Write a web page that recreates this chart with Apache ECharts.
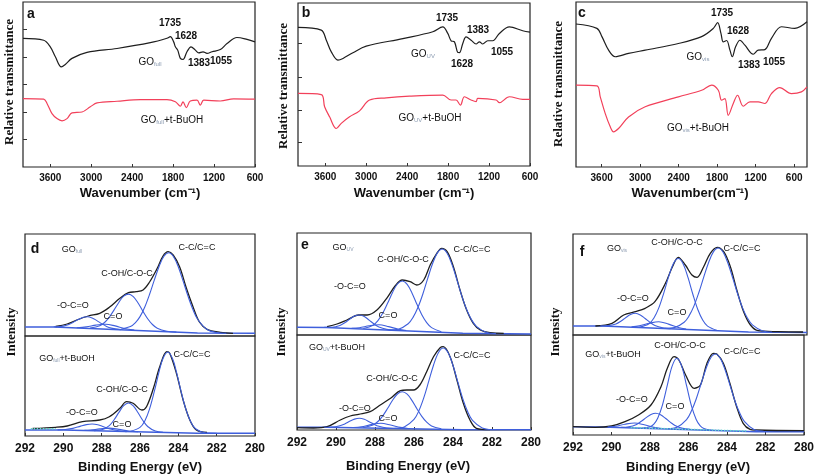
<!DOCTYPE html>
<html><head><meta charset="utf-8">
<script src="https://cdn.jsdelivr.net/npm/echarts@6/dist/echarts.min.js"></script>
<style>html,body{margin:0;padding:0;background:#fff}#c{width:817px;height:476px}</style>
</head><body><div id="c"></div>
<script>
// ---------- FTIR (wavenumber, relative transmittance a.u.) ----------
const ftirTicks = [600, 1200, 1800, 2400, 3000, 3600];
const ftirA_GO = [[4000,4.68],[3697,4.61],[3600,4.37],[3526,4.01],[3438,3.64],[3380,3.73],[3282,3.95],[3062,4.17],[2622,4.31],[2134,4.52],[1890,4.68],[1841,4.74],[1792,4.55],[1767,4.37],[1733,4.25],[1694,3.95],[1655,3.91],[1597,4.19],[1538,4.37],[1474,4.25],[1425,4.15],[1362,4.19],[1303,4.13],[1230,4.19],[1108,4.27],[1010,4.49],[864,4.71],[717,4.64],[600,4.55]];
const ftirA_tBu = [[4000,2.49],[3697,2.47],[3648,2.31],[3575,1.94],[3502,1.76],[3428,1.68],[3355,1.76],[3282,1.97],[3135,2.00],[3013,2.19],[2915,2.33],[2622,2.39],[2280,2.45],[1890,2.45],[1767,2.37],[1694,2.21],[1655,2.37],[1606,2.16],[1548,2.40],[1450,2.43],[1401,2.25],[1352,2.43],[1108,2.40],[913,2.48],[600,2.47]];
const ftirB_GO = [[4000,5.10],[3659,5.00],[3585,4.63],[3512,4.20],[3415,3.90],[3341,3.96],[3195,4.17],[3000,4.41],[2463,4.69],[2024,4.94],[1878,5.12],[1805,4.88],[1756,4.61],[1707,4.57],[1659,4.18],[1634,4.17],[1585,4.51],[1537,4.75],[1463,4.63],[1390,4.49],[1341,4.57],[1293,4.49],[1220,4.61],[1146,4.61],[1049,4.88],[902,5.12],[707,4.98],[600,4.93]];
const ftirB_tBu = [[4000,2.67],[3659,2.63],[3610,2.18],[3537,1.81],[3439,1.38],[3366,1.57],[3244,1.81],[3098,2.03],[2951,2.43],[2707,2.51],[2366,2.57],[1878,2.61],[1756,2.43],[1683,2.43],[1620,2.24],[1561,2.55],[1463,2.43],[1390,2.37],[1366,2.49],[1098,2.43],[1049,2.33],[902,2.55],[707,2.45],[600,2.45]];
const ftirC_GO = [[4000,5.20],[3674,5.04],[3596,4.74],[3492,4.25],[3389,4.01],[3181,4.13],[2922,4.25],[2404,4.49],[2042,4.74],[1860,5.04],[1793,5.25],[1741,4.86],[1705,4.55],[1653,4.60],[1601,4.25],[1565,4.01],[1513,4.37],[1446,4.61],[1368,4.43],[1238,4.10],[1161,4.25],[1057,4.27],[954,4.68],[798,5.10],[591,5.04],[400,5.28]];
const ftirC_tBu = [[4000,2.98],[3674,2.95],[3622,2.55],[3544,1.94],[3466,1.46],[3415,1.28],[3337,1.40],[3181,1.82],[2922,2.19],[2404,2.55],[2042,2.79],[1886,2.98],[1782,2.79],[1731,2.43],[1679,2.49],[1627,1.88],[1549,2.31],[1482,2.61],[1394,2.21],[1290,2.37],[1161,2.37],[1057,2.31],[954,2.67],[824,2.89],[643,2.67],[487,2.73],[400,2.91]];

// ---------- XPS C1s (binding energy, intensity a.u.) ----------
const dTopBase = [[292,9],[290.5,9],[283,3],[280,2.7]];
const dTopEnv = [[290.4,9.5],[289.8,12],[289.3,16],[288.7,20],[288.1,22.7],[287.6,28.7],[287.05,37.7],[286.6,43.3],[286.2,44.3],[285.84,46],[285.5,54],[285.1,67.7],[284.8,80],[284.53,84.3],[284.27,81],[283.93,69],[283.6,49],[283.23,29],[282.9,14],[282.5,6.7],[281.8,3.7],[281.15,2.7]];
const dTopCC = [[287,6.8],[286.5,9.4],[286.25,13.1],[286,19.4],[285.75,29],[285.5,41.7],[285.25,56.1],[285,69.8],[284.75,79.7],[284.5,83.2],[284.25,79.3],[284,69],[283.75,54.9],[283.5,40.1],[283.25,27],[283,17],[282.5,6.5],[282,3.4],[281.5,2.7]];
const dTopCOH = [[288.6,8],[288.1,10.2],[287.85,13.5],[287.6,18.9],[287.35,26.1],[287.1,33.8],[286.85,39.8],[286.6,41.9],[286.35,39.4],[286.1,33],[285.85,24.9],[285.6,17.3],[285.35,11.5],[285.1,7.8],[284.6,4.8],[284.1,3.9]];
const dTopOCO = [[290.5,9.2],[290,9.9],[289.75,11.2],[289.5,13.5],[289.25,16.2],[289,18.5],[288.75,19.3],[288.5,18.1],[288.25,15.4],[288,12.3],[287.75,9.6],[287.5,7.9],[287,6.4]];
const dTopCO = [[289.3,8.3],[288.8,9.1],[288.3,10.9],[287.8,11.8],[287.3,10.1],[286.8,7.5],[286.3,5.9]];

const dBotBase = [[292,6],[290,6],[283,2.7],[280,2.7]];
const dBotEnv = [[291.6,7.5],[290.4,8.7],[289.8,10],[289,14.3],[288.1,16],[287.6,19.3],[287.05,27.7],[286.7,34.3],[286.36,32.7],[285.9,26],[285.66,29.3],[285.3,47.7],[284.97,69.3],[284.6,84.3],[284.45,82.7],[284.1,62.7],[283.75,36],[283.4,16],[283.06,6],[282.5,3.7]];
const dBotCC = [[286.5,4.7],[286,8.6],[285.75,15],[285.5,27.1],[285.25,44.8],[285,64.6],[284.8,77.5],[284.55,84],[284.3,77.3],[284.1,64.2],[283.85,44.2],[283.6,26.3],[283.35,14],[283.1,7.3],[282.6,3.1],[282,2.7]];
const dBotCOH = [[288.4,5.4],[288,6.2],[287.6,10.4],[287.35,16.2],[287.1,23.6],[286.85,30.3],[286.6,33],[286.35,30.1],[286.1,23.2],[285.85,15.5],[285.6,9.5],[285.2,4.9],[284.8,3.7]];
const dBotOCO = [[290.3,6.1],[289.9,6.5],[289.5,7.6],[289.1,9.9],[288.8,11.4],[288.5,12],[288.2,11.2],[287.9,9.3],[287.5,6.7],[287.1,5.2],[286.7,4.4]];
const dBotCO = [[288.9,5.7],[288.6,6],[288.1,7.1],[287.6,7.9],[287.1,6.6],[286.6,5],[286.1,4.2]];
const dBotResid = [[291.7,7.3],[290.4,7.3]];

const eTopBase = [[292,7.7],[290.5,7.5],[283.5,1.7],[280,1]];
const eTopEnv = [[290.46,8.3],[289.95,11],[289.44,15],[288.84,20],[288.4,20],[287.9,25],[287.4,36.7],[286.97,49],[286.6,55],[286.2,53.3],[285.86,50],[285.5,55],[285.17,70],[284.83,81.7],[284.58,86.7],[284.3,83.3],[283.98,68.3],[283.64,45],[283.3,25],[282.96,11.7],[282.6,5],[282.1,2.3],[281.4,1.7]];
const eTopCC = [[287.3,5],[286.8,5.8],[286.3,11.2],[286.05,17.6],[285.8,27.5],[285.55,40.8],[285.3,56.4],[285.05,71.2],[284.8,82.1],[284.55,86],[284.3,81.7],[284.05,70.4],[283.8,55.2],[283.55,39.1],[283.3,25.5],[283.05,15.3],[282.8,8.7],[282.3,2.7],[281.8,1.4]];
const eTopCOH = [[288.6,6.5],[288.1,9.8],[287.85,14.4],[287.6,21.9],[287.35,31.9],[287.1,42.6],[286.85,51],[286.6,54],[286.35,50.6],[286.1,41.8],[285.85,30.7],[285.6,20.3],[285.35,12.4],[285.1,7.4],[284.6,3.3]];
const eTopOCO = [[290.6,7.6],[290.2,7.8],[289.8,9.6],[289.55,12.2],[289.3,15.7],[289.05,18.9],[288.8,20],[288.55,18.5],[288.3,14.9],[288.05,11],[287.8,8],[287.4,5.6],[287,4.7]];
const eTopCO = [[289.2,6.7],[288.8,7.3],[288.3,9.2],[287.8,10.3],[287.3,8.4],[286.8,5.7],[286.4,4.5]];

const eBotBase = [[292,2.7],[290.5,2.7],[283.5,0.3],[280,0.3]];
const eBotEnv = [[292,2.3],[291.15,2],[290.46,3.3],[289.78,10],[289.27,14],[288.84,15.7],[288.25,18.3],[287.73,25],[287.2,31.7],[286.7,39.3],[286.37,40],[286.03,40],[285.7,45],[285.35,58.3],[285,73.3],[284.66,82.3],[284.5,83.3],[284.15,73.3],[283.8,50],[283.47,26.7],[283.13,10],[282.8,1.7],[282.1,0.3]];
const eBotCC = [[287,1.7],[286.5,3.1],[286,10.6],[285.75,19.2],[285.5,32.1],[285.25,48.3],[285,64.8],[284.75,77.3],[284.5,82],[284.25,77.2],[284,64.5],[283.75,47.8],[283.5,31.4],[283.25,18.4],[283,9.7],[282.5,2.1],[282,0.5]];
const eBotCOH = [[288.6,2.5],[288.1,5.1],[287.85,8.5],[287.6,14.2],[287.35,21.7],[287.1,29.7],[286.85,36],[286.6,38.3],[286.35,35.8],[286.1,29.4],[285.85,21.3],[285.6,13.6],[285.35,7.8],[285.1,4.1],[284.6,1.2]];
const eBotOCO = [[290.6,2.7],[290.2,2.9],[289.8,4.3],[289.55,6.1],[289.3,8.7],[289.05,10.9],[288.8,11.7],[288.55,10.7],[288.3,8.3],[288.05,5.7],[287.8,3.7],[287.4,2],[287,1.5]];
const eBotCO = [[289.1,2.5],[288.7,3.2],[288.2,5.4],[287.7,6.7],[287.2,5],[286.7,2.6],[286.3,1.5]];

const fTopBase = [[292,9],[290.5,9],[283,3],[280,2.5]];
const fTopEnv = [[290.85,9],[290,11.7],[289.4,20],[288.8,23.3],[288.3,26.7],[287.8,33.3],[287.26,51.7],[286.9,68.3],[286.6,77.7],[286.24,70],[285.9,60],[285.64,57.7],[285.3,68.3],[284.96,81.7],[284.6,87.7],[284.27,83.3],[283.93,68.3],[283.6,45],[283.25,23.3],[282.9,10],[282.5,4.3],[281.5,3.3],[280.2,3]];
const fTopCC = [[287.3,6.6],[286.8,7.4],[286.3,12.7],[286.05,19.1],[285.8,28.9],[285.55,42.2],[285.3,57.6],[285.05,72.3],[284.8,83.1],[284.55,87],[284.3,82.7],[284.05,71.5],[283.8,56.4],[283.55,40.6],[283.3,26.9],[283.05,16.7],[282.8,10.1],[282.3,4.3],[281.8,3]];
const fTopCOH = [[288.6,7.8],[288.1,11.3],[287.85,17],[287.6,27.1],[287.35,41.7],[287.1,58.1],[286.85,71.5],[286.6,76.5],[286.35,71.1],[286.1,57.3],[285.85,40.5],[285.6,25.5],[285.35,15],[285.1,8.9],[284.6,4.6]];
const fTopOCO = [[290.6,9.1],[290.2,9.4],[289.8,11.1],[289.55,13.8],[289.3,17.3],[289.05,20.5],[288.8,21.7],[288.55,20.1],[288.3,16.5],[288.05,12.6],[287.8,9.5],[287.4,7.1],[287,6.2]];
const fTopCO = [[289,8.2],[288.6,9.1],[288.1,11.7],[287.6,13.3],[287.1,10.9],[286.6,7.5],[286.2,6]];

const fBotBase = [[292,8.3],[290.5,8],[282.5,3.3],[280,3.3]];
const fBotEnv = [[292,8.3],[290.85,7.7],[290,9],[289.3,13.3],[288.6,20],[287.95,30],[287.43,48.3],[287.1,66.7],[286.75,78.3],[286.5,75],[286.15,60],[285.7,46.7],[285.38,50],[285.04,71.7],[284.7,81.7],[284.53,81],[284.19,71.7],[283.85,51.7],[283.5,28.3],[283.16,11.7],[282.8,5.7],[282.5,5],[280,4.3]];
const fBotCC = [[287.1,6.4],[286.6,7.8],[286.1,15.4],[285.85,23.9],[285.6,36],[285.35,51],[285.1,65.8],[284.85,77],[284.6,81],[284.35,76.7],[284.1,65.2],[283.85,50.1],[283.6,34.8],[283.35,22.4],[283.1,13.6],[282.6,5.5],[282.1,3.6]];
const fBotCOH = [[288.4,6.9],[288,8.2],[287.8,10.9],[287.6,16.7],[287.35,30.2],[287.1,49.9],[286.85,68.9],[286.6,76.7],[286.35,68.6],[286.1,49.3],[285.85,29.3],[285.6,15.5],[285.4,9.4],[285.2,6.5],[284.8,4.8]];
const fBotCO = [[289.5,7.6],[289.1,8.2],[288.7,10.6],[288.45,13.7],[288.2,17.4],[287.95,20.5],[287.7,21.7],[287.45,20.2],[287.2,16.8],[286.95,12.9],[286.7,9.5],[286.3,6.6],[285.9,5.6]];
const fBotOCO = [[290.2,8.1],[289.8,8.8],[289.3,10.8],[288.8,12],[288.3,10.2],[287.8,7.6],[287.4,6.5]];
const fBotResid = [[289,7.4],[283,3.9]];

// ---------- layout ----------
const SANS = 'Liberation Sans, Arial, sans-serif';
const SERIF = 'Liberation Serif, Times New Roman, serif';
const BLACK = '#1e1e1e', RED = '#f2405a', BLUE = '#3f5fdc', CYAN = '#5fd8c8';
const plain = v => String(v);

const grids = [
  {left:23, top:2, width:232, height:165},
  {left:298, top:3, width:232, height:163},
  {left:576, top:2, width:231, height:165},
  {left:25, top:234, width:230, height:102},
  {left:25, top:336, width:230, height:100},
  {left:297, top:233, width:234, height:102},
  {left:297, top:335, width:234, height:95},
  {left:573, top:234, width:234, height:101},
  {left:573, top:335, width:234, height:100}
].map(g => Object.assign({show:true, borderColor:'#222', borderWidth:1.2, backgroundColor:'transparent'}, g));

const xAxes = [], yAxes = [];
[600, 600, 400].forEach((mn, i) => {
  xAxes.push({gridIndex:i, type:'value', min:mn, max:4000, inverse:true,
    axisLine:{show:false}, splitLine:{show:false},
    axisTick:{show:true, inside:true, length:3, customValues:ftirTicks, lineStyle:{color:'#333'}},
    axisLabel:{customValues:ftirTicks, formatter:plain, fontSize:10, fontWeight:'bold', color:'#111', margin:6, fontFamily:SANS}});
});
const yTickA = [1,2,3,4,5], yTickB = [0.86,2.06,3.28,4.51];
[yTickA, yTickB, null].forEach((tk, i) => {
  yAxes.push({gridIndex:i, type:'value', min:0, max:6, axisLine:{show:false}, splitLine:{show:false},
    axisLabel:{show:false},
    axisTick: tk ? {show:true, inside:true, length:4, customValues:tk, lineStyle:{color:'#333'}} : {show:false}});
});
const xpsMax = [102, 100, 102, 95, 101, 100];
xpsMax.forEach((mx, k) => {
  const gi = 3 + k, bottom = (k % 2 === 1);
  xAxes.push({gridIndex:gi, type:'value', min:280, max:292, interval:2, inverse:true,
    axisLine:{show:false}, splitLine:{show:false},
    axisTick:{show:bottom, inside:true, length:3, lineStyle:{color:'#333'}},
    axisLabel:{show:bottom, formatter:plain, fontSize:12, fontWeight:'bold', color:'#111', margin:7, fontFamily:SANS}});
  yAxes.push({gridIndex:gi, type:'value', min:0, max:mx, show:false});
});

const series = [];
function line(gi, data, color, w, z, dash) {
  series.push({type:'line', xAxisIndex:gi, yAxisIndex:gi, data, symbol:'none', smooth:0.35,
    lineStyle:{color, width:w || 1.2, type: dash || 'solid'}, silent:true, z: z || 2});
}
line(0, ftirA_GO, BLACK); line(0, ftirA_tBu, RED);
line(1, ftirB_GO, BLACK); line(1, ftirB_tBu, RED);
line(2, ftirC_GO, BLACK); line(2, ftirC_tBu, RED);
const xps = [
  [dTopBase, dTopEnv, dTopCC, dTopCOH, dTopOCO, dTopCO],
  [dBotBase, dBotEnv, dBotCC, dBotCOH, dBotOCO, dBotCO],
  [eTopBase, eTopEnv, eTopCC, eTopCOH, eTopOCO, eTopCO],
  [eBotBase, eBotEnv, eBotCC, eBotCOH, eBotOCO, eBotCO],
  [fTopBase, fTopEnv, fTopCC, fTopCOH, fTopOCO, fTopCO],
  [fBotBase, fBotEnv, fBotCC, fBotCOH, fBotOCO, fBotCO]
];
xps.forEach((set, k) => {
  const gi = 3 + k;
  series.push({type:'line', xAxisIndex:gi, yAxisIndex:gi, data:set[0], symbol:'none', smooth:false,
    lineStyle:{color:BLUE, width:1.4}, silent:true, z:2});
  line(gi, set[1], BLACK, 1.3, 3);
  for (let j = 2; j < 6; j++) line(gi, set[j], BLUE, 1.1, 4);
});
line(4, dBotResid, CYAN, 1.5, 5, 'dotted');
line(8, fBotResid, CYAN, 1.5, 5, 'dotted');

// ---------- text ----------
const G = [];
function t(x, y, s, o) {
  o = o || {};
  G.push({type:'text', x, y, rotation:o.rot || 0, z:10, silent:true,
    style:{text:s, fill:o.color || '#111', fontSize:o.size || 9, fontWeight:o.weight || 'normal',
      fontFamily:o.family || SANS, align:o.align || 'center', verticalAlign:'middle', rich:o.rich}});
}
const goRich = (sz) => ({m:{fontSize:sz, fontFamily:SANS, fill:'#111', verticalAlign:'bottom'},
                         s:{fontSize:Math.round(sz*0.6), fontFamily:SANS, fill:'#8a9ab0', verticalAlign:'bottom'}});
function go(x, y, sub, suffix, sz) {
  t(x, y, '{m|GO}{s|' + sub + '}' + (suffix ? '{m|' + suffix + '}' : ''), {rich:goRich(sz || 10)});
}
const bold = {weight:'bold', size:10};
// panel a
t(31, 14, 'a', {weight:'bold', size:14}); t(170, 23, '1735', bold); t(186, 36, '1628', bold);
go(150, 62, 'full'); t(199, 63, '1383', bold); t(221, 61, '1055', bold); go(172, 120, 'full', '+t-BuOH');
// panel b
t(306, 13, 'b', {weight:'bold', size:14}); t(447, 18, '1735', bold); t(478, 30, '1383', bold);
go(423, 54, 'UV'); t(462, 64, '1628', bold); t(502, 52, '1055', bold); go(430, 118, 'UV', '+t-BuOH');
// panel c
t(582, 13, 'c', {weight:'bold', size:14}); t(722, 13, '1735', bold); t(738, 31, '1628', bold);
go(698, 57, 'vis'); t(749, 65, '1383', bold); t(774, 62, '1055', bold); go(698, 128, 'vis', '+t-BuOH');
// FTIR axis titles
[[10, 82], [284, 86], [559, 84]].forEach(p => t(p[0], p[1], 'Relative transmittance', {rot:Math.PI/2, size:13, weight:'bold', family:SERIF}));
t(140, 193, 'Wavenumber (cm\u207B\u00B9)', {size:13, weight:'bold'});
t(414, 193, 'Wavenumber (cm\u207B\u00B9)', {size:13, weight:'bold'});
t(690, 193, 'Wavenumber(cm\u207B\u00B9)', {size:13, weight:'bold'});
// panel d
const lab = {size:9};
t(35, 249, 'd', {weight:'bold', size:14}); go(72, 250, 'full', '', 9);
t(197, 248, 'C-C/C=C', lab); t(127, 274, 'C-OH/C-O-C', lab); t(73, 306, '-O-C=O', lab); t(113, 317, 'C=O', lab);
go(67, 359, 'full', '+t-BuOH', 9);
t(192, 355, 'C-C/C=C', lab); t(122, 390, 'C-OH/C-O-C', lab); t(82, 413, '-O-C=O', lab); t(122, 425, 'C=O', lab);
// panel e
t(305, 245, 'e', {weight:'bold', size:14}); go(343, 248, 'UV', '', 9);
t(403, 260, 'C-OH/C-O-C', lab); t(472, 250, 'C-C/C=C', lab); t(350, 287, '-O-C=O', lab); t(388, 316, 'C=O', lab);
go(337, 348, 'UV', '+t-BuOH', 9);
t(472, 356, 'C-C/C=C', lab); t(392, 379, 'C-OH/C-O-C', lab); t(355, 409, '-O-C=O', lab); t(388, 419, 'C=O', lab);
// panel f
t(582, 252, 'f', {weight:'bold', size:14}); go(617, 249, 'vis', '', 9);
t(677, 243, 'C-OH/C-O-C', lab); t(742, 249, 'C-C/C=C', lab); t(633, 299, '-O-C=O', lab); t(677, 313, 'C=O', lab);
go(613, 355, 'vis', '+t-BuOH', 9);
t(680, 346, 'C-OH/C-O-C', lab); t(742, 352, 'C-C/C=C', lab); t(632, 400, '-O-C=O', lab); t(675, 407, 'C=O', lab);
// XPS axis titles
[[12, 332], [282, 332], [556, 332]].forEach(p => t(p[0], p[1], 'Intensity', {rot:Math.PI/2, size:13, weight:'bold', family:SERIF}));
t(140, 467, 'Binding Energy (eV)', {size:13, weight:'bold'});
t(408, 466, 'Binding Energy (eV)', {size:13, weight:'bold'});
t(688, 467, 'Binding Energy (eV)', {size:13, weight:'bold'});

const chart = echarts.init(document.getElementById('c'), null, {renderer:'canvas'});
chart.setOption({animation:false, backgroundColor:'#fff', grid:grids, xAxis:xAxes, yAxis:yAxes, series, graphic:G});
</script></body></html>
